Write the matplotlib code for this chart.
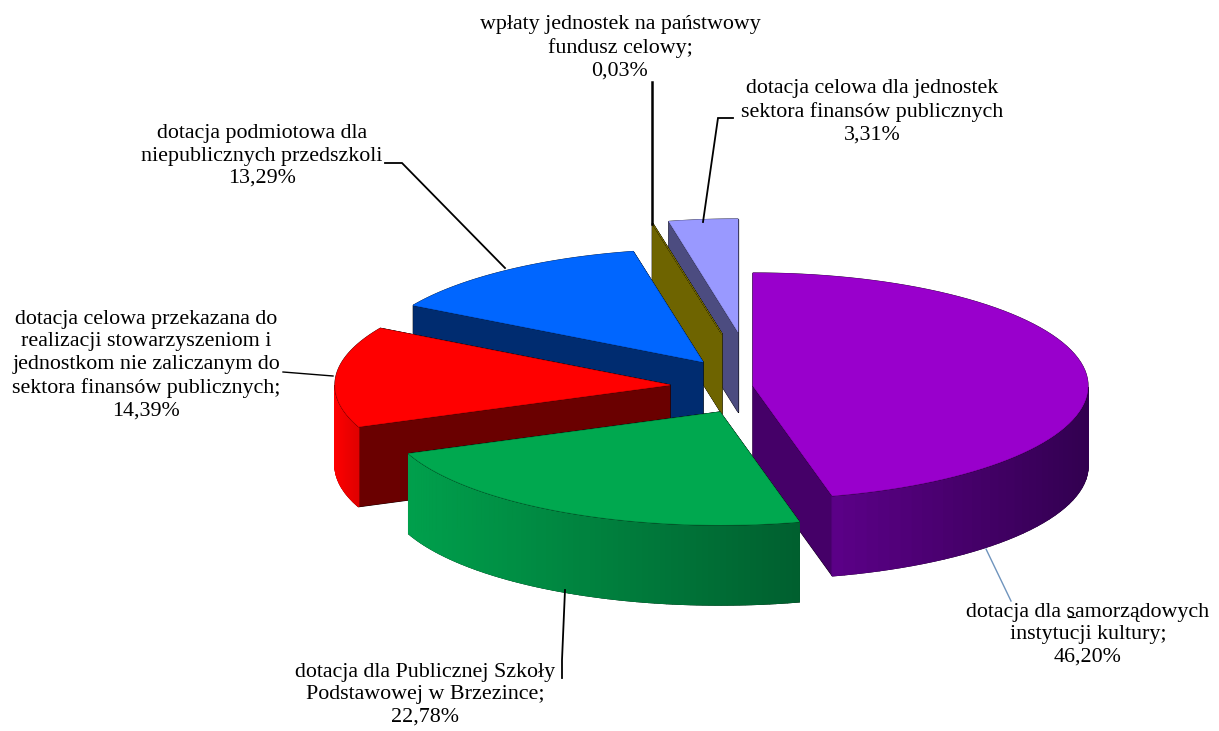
import numpy as np
import matplotlib
matplotlib.use('Agg')
import matplotlib.pyplot as plt

# Dane: udzial procentowy kolejnych dotacji (zgodnie z ruchem wskazowek zegara, od godz. 12)
wartosci = [46.20, 22.78, 14.39, 13.29, 0.03, 3.31]
opisy = [
    'dotacja dla samorządowych\ninstytucji kultury;',
    'dotacja dla Publicznej Szkoły\nPodstawowej w Brzezince;',
    'dotacja celowa przekazana do\nrealizacji stowarzyszeniom i\njednostkom nie zaliczanym do\nsektora finansów publicznych;',
    'dotacja podmiotowa dla\nniepublicznych przedszkoli',
    'wpłaty jednostek na państwowy\nfundusz celowy;',
    'dotacja celowa dla jednostek\nsektora finansów publicznych',
]
kolory_gora = ['#9900cc', '#00a84f', '#ff0000', '#0066ff', '#6e6400', '#9999ff']
kolory_bok = ['#450068', '#00703a', '#6a0000', '#002c70', '#6e6400', '#4c4c80']
# sciana zewnetrzna: kolor z lewej i z prawej strony (gradient)
luk_lewy = ['#5c0088', '#00a04c', '#ff0000', '#0066ff', '#6e6400', '#4c4c80']
luk_prawy = ['#320050', '#00602f', '#e00000', '#0066ff', '#6e6400', '#4c4c80']

# Uklad: srodki wycinkow w pikselach, polosie i wysokosc
srodki = [(753, 386), (720, 412), (670, 385), (703, 362), (722, 334), (738, 332)]
rx, ry, h = 335, 113, 80
kolejnosc = [5, 4, 3, 2, 0, 1]

# pozycje opisow (srodek x, srodek y)
poz_opisow = [(1088, 635), (425, 695), (146, 365), (262, 156), (620, 48), (872, 112)]

# linie odniesienia
linie = [
    ([986, 1011], [549, 601], '#6f94bd', 1.0),
    ([565, 562, 562], [590, 660, 678], 'black', 1.3),
    ([283, 333], [372, 376], 'black', 1.0),
    ([385, 402, 505], [163, 163, 268], 'black', 1.3),
    ([652, 652], [82, 224], 'black', 1.8),
    ([703, 718, 733], [222, 118, 118], 'black', 1.3),
]

plt.rcParams['font.family'] = ['Liberation Serif', 'DejaVu Serif']

fig = plt.figure(figsize=(12.19, 7.31), dpi=100)
ax = fig.add_axes([0, 0, 1, 1])
ax.set_xlim(0, 1219)
ax.set_ylim(731, 0)
ax.axis('off')


def punkt(c, kat):
    return c[0] + rx * np.cos(kat), c[1] - ry * np.sin(kat)


def mieszaj(a, b, t):
    a = np.array(matplotlib.colors.to_rgb(a))
    b = np.array(matplotlib.colors.to_rgb(b))
    return a + (b - a) * t


# katy wycinkow z wartosci
katy = np.pi / 2 - np.cumsum([0] + wartosci) / sum(wartosci) * 2 * np.pi

for i in kolejnosc:
    c = srodki[i]
    t = np.linspace(katy[i + 1], katy[i], 80)
    xs, ys = punkt(c, t)
    gora_x = np.r_[c[0], xs]
    gora_y = np.r_[c[1], ys]

    # scianki promieniowe
    sciany = []
    for k in (katy[i], katy[i + 1]):
        x1, y1 = punkt(c, k)
        sciany.append(([c[0], x1, x1, c[0]], [c[1], y1, y1 + h, c[1] + h], kolory_bok[i]))

    # sciana zewnetrzna - tylko przednia czesc luku
    front = np.sin(t) <= 0.0
    if front.sum() > 1:
        fx, fy = xs[front], ys[front]
        obrys_x = np.r_[fx, fx[::-1]]
        obrys_y = np.r_[fy, fy[::-1] + h]
        ax.fill(obrys_x, obrys_y, facecolor='none', edgecolor='black', lw=1.0)

    for sx, sy, kol in sciany:
        ax.fill(sx, sy, facecolor=kol, edgecolor='black', lw=0.8)
    for sx, sy, kol in sciany:
        ax.fill(sx, sy, facecolor=kol, edgecolor=kol, lw=0.3)

    if front.sum() > 1:
        idx = np.where(front)[0]
        xmin, xmax = xs[idx].min(), xs[idx].max()
        for a, b in zip(idx[:-1], idx[1:]):
            if b != a + 1:
                continue
            u = ((xs[a] + xs[b]) / 2 - xmin) / max(xmax - xmin, 1)
            kol = mieszaj(luk_lewy[i], luk_prawy[i], u)
            ax.fill([xs[a], xs[b], xs[b], xs[a]],
                    [ys[a], ys[b], ys[b] + h, ys[a] + h],
                    facecolor=kol, edgecolor=kol, lw=1.0)

    ax.fill(gora_x, gora_y, facecolor='none', edgecolor='black', lw=0.8)
    ax.fill(gora_x, gora_y, facecolor=kolory_gora[i], edgecolor=kolory_gora[i], lw=0.5)

for lx, ly, kol, lw in linie:
    ax.plot(lx, ly, color=kol, lw=lw, solid_joinstyle='miter')

for opis, w, (px, py) in zip(opisy, wartosci, poz_opisow):
    tekst = opis + '\n' + f'{w:.2f}'.replace('.', ',') + '%'
    ax.text(px, py, tekst, ha='center', va='center', fontsize=15.8,
            linespacing=1.25, color='black', multialignment='center')

# podkreslenie litery "s" w pierwszym opisie
ax.plot([1068, 1075], [617, 617], color='black', lw=0.8)

fig.savefig('out.png', dpi=100)
